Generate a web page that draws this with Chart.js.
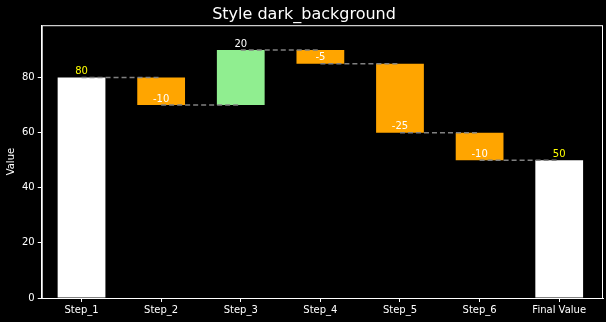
<!DOCTYPE html>
<html>
<head>
<meta charset="utf-8">
<script src="https://cdn.jsdelivr.net/npm/chart.js"></script>
<style>
  html, body { margin: 0; padding: 0; background: #000; }
  #wrap { width: 606px; height: 322px; }
</style>
</head>
<body>
<div id="wrap"><canvas id="chart" width="606" height="322"></canvas></div>
<script>
const categories = ['Step_1', 'Step_2', 'Step_3', 'Step_4', 'Step_5', 'Step_6', 'Final Value']
const changes = [80, -10, 20, -5, -25, -10, 50]
const yTicks = [0, 20, 40, 60, 80]
const barColors = ['#ffffff', '#ffa500', '#90ee90', '#ffa500', '#ffa500', '#ffa500', '#ffffff']
const labelColors = ['#ffff00', '#ffffff', '#ffffff', '#ffffff', '#ffffff', '#ffffff', '#ffff00']

// floating bars: [start, end] from running total
let total = 0
const ranges = changes.map((c, i) => {
    if (i === changes.length - 1) return [0, c]
    const start = total
    total += c
    return [start, total]
})
const ends = ranges.map(r => r[1])

const font = 'DejaVu Sans'

const waterfallExtras = {
    id: 'waterfallExtras',
    afterDatasetsDraw(chart) {
        const { ctx, chartArea, scales: { x, y } } = chart
        ctx.save()
        // connectors
        ctx.strokeStyle = '#808080'
        ctx.lineWidth = 1.5
        ctx.setLineDash([5, 3])
        for (let i = 0; i < ends.length - 1; i++) {
            const yy = y.getPixelForValue(ends[i])
            ctx.beginPath()
            ctx.moveTo(x.getPixelForValue(i), yy)
            ctx.lineTo(x.getPixelForValue(i + 1), yy)
            ctx.stroke()
        }
        ctx.setLineDash([])
        // value labels
        ctx.font = '10px ' + font
        ctx.textAlign = 'center'
        ctx.textBaseline = 'bottom'
        changes.forEach((c, i) => {
            ctx.fillStyle = labelColors[i]
            ctx.fillText(String(c), x.getPixelForValue(i), y.getPixelForValue(ends[i]) - 1)
        })
        // frame
        ctx.strokeStyle = '#ffffff'
        ctx.lineWidth = 1
        ctx.strokeRect(chartArea.left + 0.5, chartArea.top + 0.5,
            chartArea.right - chartArea.left - 1, chartArea.bottom - chartArea.top)
        ctx.restore()
    }
}

new Chart(document.getElementById('chart'), {
    type: 'bar',
    data: {
        datasets: [{
            data: ranges.map((r, i) => ({ x: i, y: r })),
            backgroundColor: barColors,
            borderWidth: 0,
            barPercentage: 0.6,
            categoryPercentage: 1
        }]
    },
    options: {
        responsive: false,
        animation: false,
        layout: { padding: { left: 5, right: 3, top: 0, bottom: 4 } },
        plugins: {
            legend: { display: false },
            tooltip: { enabled: false },
            title: {
                display: true,
                text: 'Style dark_background',
                color: '#ffffff',
                font: { family: font, size: 16, weight: 'normal' },
                padding: { top: 5, bottom: 1 }
            }
        },
        scales: {
            x: {
                type: 'linear',
                min: -0.5,
                max: 6.55,
                offset: false,
                afterBuildTicks: axis => { axis.ticks = categories.map((c, i) => ({ value: i })) },
                grid: { offset: false, drawOnChartArea: false, drawTicks: true, tickLength: 4, color: '#ffffff' },
                border: { color: '#ffffff' },
                ticks: {
                    color: '#ffffff', font: { family: font, size: 10 }, padding: 2, maxRotation: 0,
                    autoSkip: false,
                    callback: v => categories[v]
                }
            },
            y: {
                min: 0,
                max: 99,
                afterBuildTicks: axis => { axis.ticks = yTicks.map(v => ({ value: v })) },
                grid: { drawOnChartArea: false, drawTicks: true, tickLength: 4, color: '#ffffff' },
                border: { color: '#ffffff' },
                ticks: { color: '#ffffff', font: { family: font, size: 10 }, padding: 3 },
                title: {
                    display: true,
                    text: 'Value',
                    color: '#ffffff',
                    font: { family: font, size: 10 },
                    padding: { top: 0, bottom: 2 }
                }
            }
        }
    },
    plugins: [waterfallExtras]
})
</script>
</body>
</html>
